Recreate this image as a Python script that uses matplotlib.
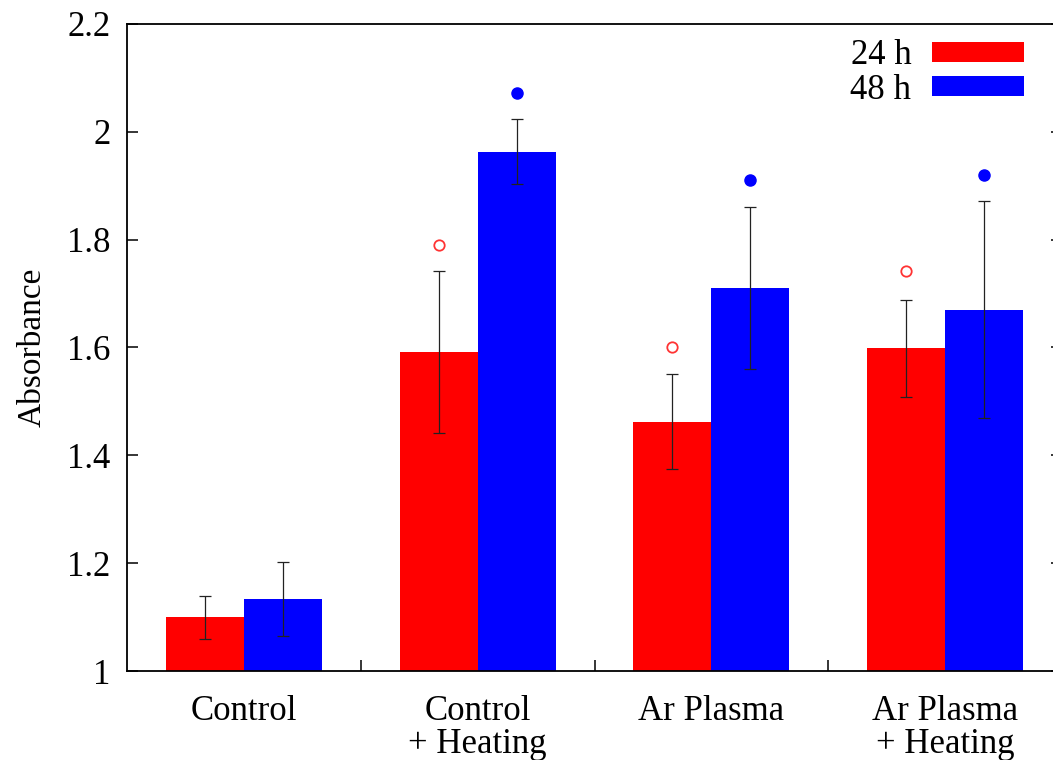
"""
Absorbance bar chart, 24 h vs 48 h, with error bars and significance markers.
"""

import matplotlib.pyplot as plt
import numpy as np

categories = ["Control", "Control\n+ Heating", "Ar Plasma", "Ar Plasma\n+ Heating"]

absorbance_24h = [1.100, 1.592, 1.462, 1.599]
error_24h = [0.040, 0.150, 0.088, 0.090]
marker_24h = [np.nan, 1.790, 1.601, 1.742]

absorbance_48h = [1.134, 1.963, 1.711, 1.670]
error_48h = [0.069, 0.060, 0.150, 0.201]
marker_48h = [np.nan, 2.072, 1.911, 1.920]

plt.rcParams["font.family"] = ["Liberation Serif", "DejaVu Serif"]

x = np.arange(len(categories))
width = 1 / 3

fig = plt.figure(figsize=(10.53, 7.6), dpi=100)
ax = fig.add_axes([127 / 1053, 89 / 760, 935 / 1053, 647 / 760])

ax.bar(x - width / 2, np.array(absorbance_24h) - 1, width, bottom=1,
       color="#ff0000", linewidth=0, label="24 h", zorder=2)
ax.bar(x + width / 2, np.array(absorbance_48h) - 1, width, bottom=1,
       color="#0000ff", linewidth=0, label="48 h", zorder=2)

ax.errorbar(x - width / 2, absorbance_24h, yerr=error_24h, fmt="none",
            ecolor="#222222", elinewidth=0.9, capsize=4, capthick=0.9, zorder=3)
ax.errorbar(x + width / 2, absorbance_48h, yerr=error_48h, fmt="none",
            ecolor="#222222", elinewidth=0.9, capsize=4, capthick=0.9, zorder=3)

ax.plot(x - width / 2, marker_24h, linestyle="none", marker="o", markersize=7.5,
        markerfacecolor="none", markeredgecolor="#ff3333", markeredgewidth=1.3,
        zorder=4)
ax.plot(x + width / 2, marker_48h, linestyle="none", marker="o", markersize=8,
        color="#0000ff", zorder=4)

ax.set_xlim(-0.5, 3.5)
ax.set_ylim(1, 2.2)
ax.set_yticks([1, 1.2, 1.4, 1.6, 1.8, 2, 2.2])
ax.set_yticklabels(["1", "1.2", "1.4", "1.6", "1.8", "2", "2.2"])
ax.set_xticks(x)
ax.set_xticklabels(categories, fontsize=25, linespacing=1.0)
ax.set_xticks([0.5, 1.5, 2.5], minor=True)

ax.tick_params(axis="y", which="major", direction="in", length=8, width=1.1,
               labelsize=25, pad=12, right=True)
ax.tick_params(axis="x", which="major", length=0, pad=17)
ax.tick_params(axis="x", which="minor", direction="in", length=8, width=1.1)

for spine in ax.spines.values():
    spine.set_linewidth(1.3)

ax.set_ylabel("Absorbance", fontsize=24, labelpad=14)

legend = ax.legend(loc="upper right", bbox_to_anchor=(0.9755, 1.0), frameon=False,
                   fontsize=25, markerfirst=False, handlelength=2.65,
                   handleheight=0.5, labelspacing=0.05, handletextpad=0.6,
                   borderaxespad=0.03)

fig.savefig("out.png", dpi=100)
plt.close(fig)
